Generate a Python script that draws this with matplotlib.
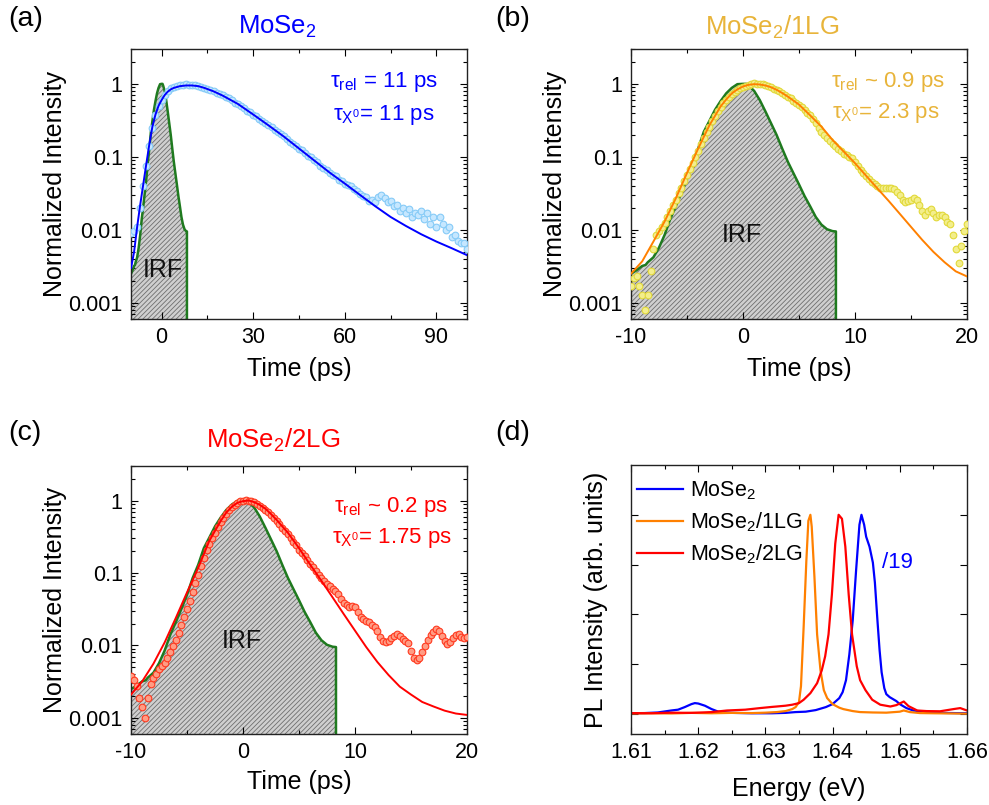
import matplotlib
matplotlib.use('Agg')

import numpy as np
import matplotlib.pyplot as plt
from matplotlib import ticker

plt.rcParams['font.family'] = ['Liberation Sans', 'DejaVu Sans']
plt.rcParams['mathtext.fontset'] = 'custom'
plt.rcParams['mathtext.rm'] = 'Liberation Sans'
plt.rcParams['mathtext.it'] = 'Liberation Sans:italic'
plt.rcParams['axes.unicode_minus'] = False
plt.rcParams['hatch.linewidth'] = 0.6
plt.rcParams['hatch.color'] = '#6e6e6e'

# ---------- data ----------
# instrument response function, same for (a)-(c)
t_irf = [-10, -9.5, -9.0, -8.7, -8.5, -8.0, -7.5, -7.0, -6.5, -6.0, -5.5, -5.0, -4.5,
         -4.0, -3.5, -3.0, -2.5, -2.0, -1.5, -1.0, -0.5, 0.0, 0.3, 0.5, 1.0, 1.5, 2.0,
         2.5, 3.0, 3.5, 4.0, 4.5, 5.0, 5.5, 6.0, 6.5, 7.0, 7.5, 8.0, 8.3]
irf = [0.0025, 0.0028, 0.0032, 0.0033, 0.0036, 0.0042, 0.0057, 0.0085, 0.014, 0.021,
       0.032, 0.05, 0.085, 0.13, 0.22, 0.31, 0.44, 0.58, 0.74, 0.88, 0.99, 1.0, 1.0,
       0.95, 0.8, 0.6, 0.42, 0.29, 0.2, 0.13, 0.086, 0.06, 0.042, 0.029, 0.021, 0.015,
       0.0118, 0.0102, 0.0096, 0.0095]

# (a) MoSe2
t_fit_a = [-10, -9, -8, -7, -6, -5, -4, -3, -2, -1, 0, 1, 2, 3, 4, 6, 8, 10, 12, 14,
           17, 20, 25, 30, 35, 40, 45, 50, 55, 60, 65, 70, 75, 80, 85, 90, 95, 100]
fit_a = [0.003, 0.005, 0.011, 0.022, 0.042, 0.08, 0.15, 0.26, 0.38, 0.5, 0.6, 0.7,
         0.78, 0.84, 0.88, 0.93, 0.95, 0.95, 0.93, 0.88, 0.79, 0.69, 0.53, 0.38, 0.27,
         0.19, 0.13, 0.089, 0.061, 0.043, 0.030, 0.021, 0.015, 0.0113, 0.0087, 0.0069,
         0.0056, 0.0045]
t_dat_a = np.arange(-10, 101, 1)
dat_a = [0.009, 0.0095, 0.011, 0.02, 0.04, 0.075, 0.14, 0.25, 0.37, 0.5,
         0.6, 0.71, 0.8, 0.87, 0.9, 0.93, 0.95, 0.97, 0.98, 0.97,
         0.96, 0.95, 0.93, 0.9, 0.87, 0.85, 0.82, 0.79, 0.76, 0.73,
         0.7, 0.66, 0.63, 0.6, 0.55, 0.53, 0.49, 0.47, 0.43, 0.41,
         0.38, 0.36, 0.33, 0.31, 0.29, 0.27, 0.255, 0.235, 0.22, 0.205,
         0.19, 0.175, 0.16, 0.15, 0.14, 0.13, 0.125, 0.112, 0.104, 0.098,
         0.09, 0.086, 0.075, 0.071, 0.066, 0.06, 0.057, 0.054, 0.048, 0.046,
         0.043, 0.041, 0.04, 0.036, 0.034, 0.031, 0.029, 0.028, 0.025, 0.026,
         0.024, 0.028, 0.03, 0.027, 0.024, 0.025, 0.021, 0.022, 0.018, 0.02,
         0.017, 0.019, 0.015, 0.017, 0.016, 0.018, 0.014, 0.017, 0.012, 0.015,
         0.011, 0.015, 0.012, 0.01, 0.011, 0.008, 0.0085, 0.007, 0.0065, 0.0065,
         0.0055]

# (b) MoSe2/1LG
t_fit_b = [-10, -9, -8, -7, -6, -5, -4, -3, -2, -1.5, -1, -0.5, 0, 0.5, 1, 1.5, 2,
           2.5, 3, 3.5, 4, 5, 6, 7, 8, 9, 10, 11, 12, 13, 14, 15, 16, 17, 18, 19, 20]
fit_b = [0.0025, 0.0037, 0.0069, 0.013, 0.027, 0.06, 0.13, 0.27, 0.49, 0.61, 0.74,
         0.84, 0.92, 0.97, 0.99, 0.98, 0.95, 0.9, 0.83, 0.75, 0.67, 0.52, 0.37, 0.26,
         0.17, 0.118, 0.082, 0.055, 0.037, 0.025, 0.0166, 0.011, 0.0073, 0.005,
         0.0036, 0.0027, 0.0023]
t_dat_b = np.arange(-10, 20.01, 0.25)
dat_b = [0.0017, 0.0022, 0.0023, 0.0017, 0.0013, 0.0008, 0.0013, 0.0027, 0.0054, 0.0085,
         0.0095, 0.011, 0.0125, 0.015, 0.018, 0.022, 0.026, 0.032, 0.038, 0.046,
         0.056, 0.068, 0.083, 0.1, 0.12, 0.15, 0.18, 0.22, 0.26, 0.31,
         0.36, 0.42, 0.48, 0.54, 0.6, 0.67, 0.73, 0.78, 0.83, 0.87,
         0.91, 0.94, 0.97, 0.99, 1.02, 1.0, 0.99, 0.98, 0.95, 0.93,
         0.9, 0.86, 0.83, 0.79, 0.75, 0.71, 0.67, 0.63, 0.59, 0.55,
         0.52, 0.48, 0.44, 0.4, 0.37, 0.33, 0.29, 0.25, 0.22, 0.2,
         0.18, 0.165, 0.15, 0.14, 0.13, 0.12, 0.11, 0.105, 0.1, 0.095,
         0.085, 0.075, 0.065, 0.06, 0.055, 0.05, 0.045, 0.042, 0.04, 0.038,
         0.037, 0.037, 0.038, 0.037, 0.036, 0.033, 0.03, 0.026, 0.024, 0.025,
         0.026, 0.027, 0.026, 0.022, 0.018, 0.016, 0.018, 0.019, 0.017, 0.015,
         0.016, 0.016, 0.015, 0.013, 0.012, 0.0085, 0.0055, 0.0035, 0.006, 0.0095,
         0.012]

# (c) MoSe2/2LG
t_fit_c = [-10, -9, -8, -7, -6, -5, -4, -3, -2, -1.5, -1, -0.5, 0, 0.5, 1, 1.5, 2,
           2.5, 3, 4, 5, 6, 7, 8, 9, 10, 11, 12, 13, 14, 15, 16, 17, 18, 19, 20]
fit_c = [0.0021, 0.0032, 0.0056, 0.011, 0.024, 0.054, 0.118, 0.28, 0.52, 0.68, 0.82,
         0.93, 0.98, 1.0, 0.95, 0.87, 0.77, 0.65, 0.54, 0.36, 0.22, 0.13, 0.078,
         0.046, 0.027, 0.016, 0.0095, 0.0059, 0.0039, 0.0027, 0.0021, 0.00166,
         0.00144, 0.00126, 0.00115, 0.0011]
t_dat_c = np.arange(-10, 20.01, 0.25)
dat_c = [0.0038, 0.0033, 0.0028, 0.0019, 0.0014, 0.0010, 0.0019, 0.0029, 0.0036, 0.0041,
         0.0047, 0.0052, 0.0058, 0.0068, 0.0082, 0.0098, 0.012, 0.015, 0.019, 0.025,
         0.032, 0.041, 0.055, 0.072, 0.095, 0.125, 0.16, 0.21, 0.25, 0.3,
         0.36, 0.43, 0.5, 0.58, 0.66, 0.74, 0.81, 0.88, 0.93, 0.97,
         1.0, 1.01, 0.99, 0.97, 0.94, 0.9, 0.85, 0.8, 0.75, 0.69,
         0.63, 0.57, 0.52, 0.47, 0.42, 0.38, 0.34, 0.3, 0.27, 0.24,
         0.21, 0.19, 0.17, 0.15, 0.135, 0.12, 0.105, 0.095, 0.086, 0.078,
         0.071, 0.066, 0.061, 0.056, 0.051, 0.044, 0.039, 0.036, 0.034, 0.035,
         0.034, 0.029, 0.025, 0.023, 0.022, 0.021, 0.019, 0.018, 0.016, 0.013,
         0.0115, 0.011, 0.0115, 0.0125, 0.0135, 0.0145, 0.0135, 0.0123, 0.0115, 0.0108,
         0.0085, 0.0068, 0.0062, 0.0068, 0.0082, 0.0098, 0.0118, 0.0138, 0.0155, 0.017,
         0.016, 0.0135, 0.0115, 0.0105, 0.0112, 0.0125, 0.014, 0.0145, 0.013, 0.0125,
         0.013]

# (d) PL spectra (normalised; MoSe2 divided by 19)
e_mose2 = [1.610, 1.612, 1.614, 1.616, 1.617, 1.618, 1.619, 1.6195, 1.620, 1.621,
           1.622, 1.623, 1.625, 1.628, 1.631, 1.633, 1.6345, 1.636, 1.6375, 1.639,
           1.640, 1.641, 1.6415, 1.642, 1.6425, 1.643, 1.6435, 1.644, 1.6443, 1.6447,
           1.645, 1.6455, 1.646, 1.6463, 1.6467, 1.647, 1.6473, 1.6477, 1.648, 1.6485,
           1.649, 1.6495, 1.650, 1.651, 1.652, 1.654, 1.656, 1.658, 1.660]
pl_mose2 = [0.0045, 0.005, 0.008, 0.018, 0.022, 0.035, 0.05, 0.055, 0.053, 0.042,
            0.025, 0.012, 0.006, 0.004, 0.004, 0.006, 0.01, 0.012, 0.02, 0.035,
            0.05, 0.08, 0.11, 0.17, 0.3, 0.47, 0.72, 0.95, 1.0, 0.95,
            0.89, 0.84, 0.76, 0.66, 0.46, 0.32, 0.21, 0.13, 0.1, 0.085,
            0.075, 0.065, 0.05, 0.03, 0.018, 0.01, 0.006, 0.005, 0.004]
e_1lg = [1.610, 1.613, 1.616, 1.619, 1.622, 1.625, 1.628, 1.630, 1.6317, 1.633,
         1.634, 1.6345, 1.635, 1.6353, 1.6357, 1.6361, 1.6364, 1.6367, 1.6369, 1.6373,
         1.6377, 1.6382, 1.6387, 1.6392, 1.640, 1.641, 1.6416, 1.643, 1.6441, 1.646,
         1.648, 1.650, 1.6506, 1.6515, 1.653, 1.655, 1.658, 1.660]
pl_1lg = [0.003, 0.004, 0.003, 0.006, 0.004, 0.006, 0.005, 0.007, 0.01, 0.015,
          0.025, 0.035, 0.06, 0.14, 0.44, 0.77, 0.97, 1.0, 0.94, 0.69,
          0.4, 0.22, 0.12, 0.08, 0.05, 0.032, 0.025, 0.015, 0.01, 0.008,
          0.007, 0.012, 0.018, 0.01, 0.005, 0.004, 0.003, 0.002]
e_2lg = [1.610, 1.613, 1.616, 1.619, 1.622, 1.6243, 1.627, 1.6292, 1.631, 1.6317,
         1.633, 1.634, 1.635, 1.6357, 1.6367, 1.6377, 1.6384, 1.6389, 1.6394, 1.6399,
         1.6404, 1.6409, 1.6414, 1.6419, 1.6424, 1.6429, 1.6436, 1.6441, 1.6449, 1.6459,
         1.6471, 1.6486, 1.6495, 1.6506, 1.6513, 1.6526, 1.654, 1.656, 1.658, 1.659,
         1.660]
pl_2lg = [0.005, 0.004, 0.007, 0.006, 0.01, 0.018, 0.022, 0.03, 0.036, 0.038,
          0.042, 0.047, 0.055, 0.072, 0.105, 0.155, 0.22, 0.29, 0.40, 0.6,
          0.855, 1.0, 0.98, 0.84, 0.6, 0.40, 0.24, 0.17, 0.12, 0.072,
          0.047, 0.038, 0.045, 0.063, 0.04, 0.018, 0.015, 0.014, 0.025, 0.03,
          0.018]

BLUE = '#0000ff'
GOLD = '#e8b43a'
ORANGE = '#ff8000'
RED = '#ff0000'
GREEN = '#1f7a1f'

fig = plt.figure(figsize=(9.89, 8.05), dpi=100)
ax_a = fig.add_axes([0.1325, 0.6037, 0.3397, 0.3354])
ax_b = fig.add_axes([0.638, 0.6037, 0.3397, 0.3354])
ax_c = fig.add_axes([0.1325, 0.0882, 0.3397, 0.3330])
ax_d = fig.add_axes([0.638, 0.0882, 0.3397, 0.3342])

YMIN, YMAX = 6e-4, 3.0


def style(ax):
    ax.tick_params(which='both', direction='in', top=True, right=True,
                   labelsize=15.5, width=0.8)
    ax.tick_params(which='major', length=5, pad=6)
    ax.tick_params(which='minor', length=3)
    for sp in ax.spines.values():
        sp.set_linewidth(1.0)
        sp.set_color('#222222')


def decay_panel(ax, t_fit, fit, t_dat, dat, fit_color, mfc, mec, xlim, major, minor, irf_xy):
    ax.fill_between(t_irf, irf, 1e-5, facecolor='#cfcfcf', edgecolor='#6e6e6e',
                    hatch='///////', linewidth=0, zorder=1)
    ax.plot(t_irf + [t_irf[-1]], irf + [1e-5], color=GREEN, lw=1.8, zorder=2)
    ax.plot(t_dat, dat, 'o', ms=4.8, mfc=mfc, mec=mec, mew=0.8, zorder=3)
    ax.plot(t_fit, fit, color=fit_color, lw=1.4, zorder=4)
    ax.set_yscale('log')
    ax.set_ylim(YMIN, YMAX)
    ax.set_xlim(*xlim)
    ax.xaxis.set_major_locator(ticker.MultipleLocator(major))
    ax.xaxis.set_minor_locator(ticker.MultipleLocator(minor))
    ax.yaxis.set_major_locator(ticker.FixedLocator([0.001, 0.01, 0.1, 1]))
    ax.yaxis.set_major_formatter(ticker.FuncFormatter(lambda v, p: f'{v:g}'))
    ax.yaxis.set_minor_locator(ticker.LogLocator(base=10, subs=np.arange(2, 10)))
    ax.yaxis.set_minor_formatter(ticker.NullFormatter())
    ax.set_xlabel('Time (ps)', fontsize=18)
    ax.set_ylabel('Normalized Intensity', fontsize=18)
    ax.xaxis.set_label_coords(0.5, -0.14)
    ax.yaxis.set_label_coords(-0.19, 0.5)
    ax.text(irf_xy[0], irf_xy[1], 'IRF', fontsize=18, ha='center', va='center',
            color='#111111', zorder=5)
    style(ax)


decay_panel(ax_a, t_fit_a, fit_a, t_dat_a, dat_a, BLUE, '#c6e7ff', '#86cbf7',
            (-10, 100), 30, 15, (0.5, 0.0028))
decay_panel(ax_b, t_fit_b, fit_b, t_dat_b, dat_b, ORANGE, '#f3ee8c', '#e2d93a',
            (-10, 20), 10, 5, (-0.1, 0.0085))
decay_panel(ax_c, t_fit_c, fit_c, t_dat_c, dat_c, RED, '#ff9c84', '#ff3a20',
            (-10, 20), 10, 5, (-0.1, 0.0115))
ax_c.xaxis.set_label_coords(0.5, -0.134)

# lifetime annotations
ax_a.text(0.753, 0.878, r'τ$_{\rm rel}$ = 11 ps', transform=ax_a.transAxes,
          color=BLUE, fontsize=16, ha='center', va='center')
ax_a.text(0.753, 0.756, r'τ$_{\rm X^0}$= 11 ps', transform=ax_a.transAxes,
          color=BLUE, fontsize=16, ha='center', va='center')
ax_b.text(0.765, 0.878, r'τ$_{\rm rel}$ ~ 0.9 ps', transform=ax_b.transAxes,
          color=GOLD, fontsize=16, ha='center', va='center')
ax_b.text(0.76, 0.763, r'τ$_{\rm X^0}$= 2.3 ps', transform=ax_b.transAxes,
          color=GOLD, fontsize=16, ha='center', va='center')
ax_c.text(0.774, 0.847, r'τ$_{\rm rel}$ ~ 0.2 ps', transform=ax_c.transAxes,
          color=RED, fontsize=16, ha='center', va='center')
ax_c.text(0.776, 0.731, r'τ$_{\rm X^0}$= 1.75 ps', transform=ax_c.transAxes,
          color=RED, fontsize=16, ha='center', va='center')

# (d) PL spectra
ax_d.plot(e_mose2, pl_mose2, color=BLUE, lw=1.6, label='MoSe$_2$')
ax_d.plot(e_1lg, pl_1lg, color=ORANGE, lw=1.6, label='MoSe$_2$/1LG')
ax_d.plot(e_2lg, pl_2lg, color=RED, lw=1.6, label='MoSe$_2$/2LG')
ax_d.set_xlim(1.61, 1.66)
ax_d.set_ylim(-0.1, 1.25)
ax_d.xaxis.set_major_locator(ticker.MultipleLocator(0.01))
ax_d.xaxis.set_minor_locator(ticker.MultipleLocator(0.005))
ax_d.xaxis.set_major_formatter(ticker.FormatStrFormatter('%.2f'))
ax_d.yaxis.set_major_locator(ticker.FixedLocator([0, 0.25, 0.5, 0.75, 1.0]))
ax_d.yaxis.set_major_formatter(ticker.NullFormatter())
ax_d.set_xlabel('Energy (eV)', fontsize=18)
ax_d.set_ylabel('PL Intensity (arb. units)', fontsize=18)
ax_d.xaxis.set_label_coords(0.5, -0.16)
ax_d.yaxis.set_label_coords(-0.068, 0.5)
ax_d.text(1.6497, 0.76, '/19', color=BLUE, fontsize=16, ha='center', va='center')
ax_d.legend(loc='upper left', frameon=False, fontsize=15.5, handlelength=2.15,
            handletextpad=0.3, labelspacing=0.38, borderaxespad=0.0,
            bbox_to_anchor=(-0.008, 0.978))
style(ax_d)

# titles and panel letters
fig.text(0.280, 0.9665, 'MoSe$_2$', color=BLUE, fontsize=18.5, ha='center', va='center')
fig.text(0.7806, 0.9665, 'MoSe$_2$/1LG', color=GOLD, fontsize=18.5, ha='center', va='center')
fig.text(0.276, 0.4534, 'MoSe$_2$/2LG', color=RED, fontsize=18.5, ha='center', va='center')
for x, y, s in [(0.008, 0.977, '(a)'), (0.5005, 0.977, '(b)'),
                (0.008, 0.462, '(c)'), (0.5005, 0.462, '(d)')]:
    fig.text(x, y, s, fontsize=20.5, ha='left', va='center')

fig.savefig('out.png', dpi=100)
plt.close(fig)
